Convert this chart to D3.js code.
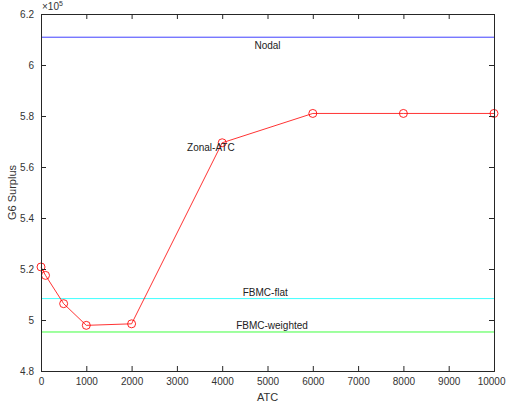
<!DOCTYPE html>
<html><head><meta charset="utf-8">
<script src="https://cdn.jsdelivr.net/npm/d3@7"></script>
<style>body{margin:0;background:#fff;} svg{display:block;font-family:"Liberation Sans",Arial,sans-serif;}</style>
</head><body>
<script>
const atcValues = [0, 100, 500, 1000, 2000, 4000, 6000, 8000, 10000];
const zonalSurplus = [5.208, 5.175, 5.064, 4.979, 4.985, 5.695, 5.810, 5.810, 5.810];
const nodalSurplus = 6.109;
const fbmcFlatSurplus = 5.084;
const fbmcWeightedSurplus = 4.953;
const xTicks = [0,1000,2000,3000,4000,5000,6000,7000,8000,9000,10000];
const yTicks = [4.8,5,5.2,5.4,5.6,5.8,6,6.2];
const refLines = [
  {name:"Nodal", value:nodalSurplus, color:"#0000ff", lx:5000, dy:12},
  {name:"FBMC-flat", value:fbmcFlatSurplus, color:"#00ffff", lx:4950, dy:-3},
  {name:"FBMC-weighted", value:fbmcWeightedSurplus, color:"#00ff00", lx:5100, dy:-3}
];

const W=506,H=409;
const m={l:41,r:12,t:14,b:38};
const svg=d3.select("body").append("svg").attr("width",W).attr("height",H);
const x=d3.scaleLinear().domain([0,10000]).range([m.l,W-m.r]);
const y=d3.scaleLinear().domain([4.8,6.2]).range([H-m.b,m.t]);
const axisCol="#262626";
const textCol="#333";

refLines.forEach(r=>{
  svg.append("line").attr("x1",x(0)).attr("x2",x(10000)).attr("y1",y(r.value)).attr("y2",y(r.value))
    .attr("stroke",r.color).attr("stroke-width",1).attr("opacity",0.75);
});
const line=d3.line().x((d,i)=>x(atcValues[i])).y(d=>y(d));
svg.append("path").datum(zonalSurplus).attr("d",line).attr("fill","none").attr("stroke","#ff0000").attr("stroke-width",1).attr("opacity",0.8);
svg.selectAll("circle.m").data(zonalSurplus).enter().append("circle")
  .attr("cx",(d,i)=>x(atcValues[i])).attr("cy",d=>y(d)).attr("r",4)
  .attr("fill","none").attr("stroke","#ff0000").attr("stroke-width",1).attr("opacity",0.85);

refLines.forEach(r=>{
  svg.append("text").attr("x",x(r.lx)).attr("y",y(r.value)+r.dy).attr("text-anchor","middle")
    .attr("font-size",10).attr("fill","#222").text(r.name);
});
svg.append("text").attr("x",x(3750)).attr("y",y(zonalSurplus[5])+8).attr("text-anchor","middle")
  .attr("font-size",10).attr("fill","#222").text("Zonal-ATC");

const tl=5;
const gb=svg.append("g").attr("transform",`translate(0,${H-m.b})`).call(d3.axisBottom(x).tickValues(xTicks).tickSize(-tl).tickPadding(7).tickFormat(d3.format("d")));
const gt=svg.append("g").attr("transform",`translate(0,${m.t})`).call(d3.axisTop(x).tickValues(xTicks).tickSize(-tl).tickFormat(""));
const gl=svg.append("g").attr("transform",`translate(${m.l},0)`).call(d3.axisLeft(y).tickValues(yTicks).tickSize(-tl).tickPadding(7).tickFormat(d=>d3.format("~g")(d)));
const gr=svg.append("g").attr("transform",`translate(${W-m.r},0)`).call(d3.axisRight(y).tickValues(yTicks).tickSize(-tl).tickFormat(""));
[gb,gt,gl,gr].forEach(g=>{
  g.selectAll("path.domain").attr("stroke",axisCol).attr("stroke-width",1);
  g.selectAll("line").attr("stroke",axisCol);
  g.selectAll("text").attr("fill",textCol).attr("font-size",10).attr("font-family","Liberation Sans, Arial, sans-serif");
});
// keep the last x tick label inside the window
gb.selectAll(".tick").filter(d=>d===10000).select("text").attr("text-anchor","end").attr("dx",11);
svg.append("text").attr("x",(m.l+W-m.r)/2).attr("y",H-8).attr("text-anchor","middle").attr("font-size",11).attr("fill",textCol).text("ATC");
svg.append("text").attr("transform",`translate(16,${(m.t+H-m.b)/2}) rotate(-90)`).attr("text-anchor","middle").attr("font-size",11).attr("fill",textCol).text("G6 Surplus");
const ex=svg.append("text").attr("x",m.l+1).attr("y",m.t-4).attr("font-size",10).attr("fill",textCol);
ex.append("tspan").text("×10");
ex.append("tspan").attr("font-size",7).attr("dy",-4).text("5");
</script>
</body></html>
